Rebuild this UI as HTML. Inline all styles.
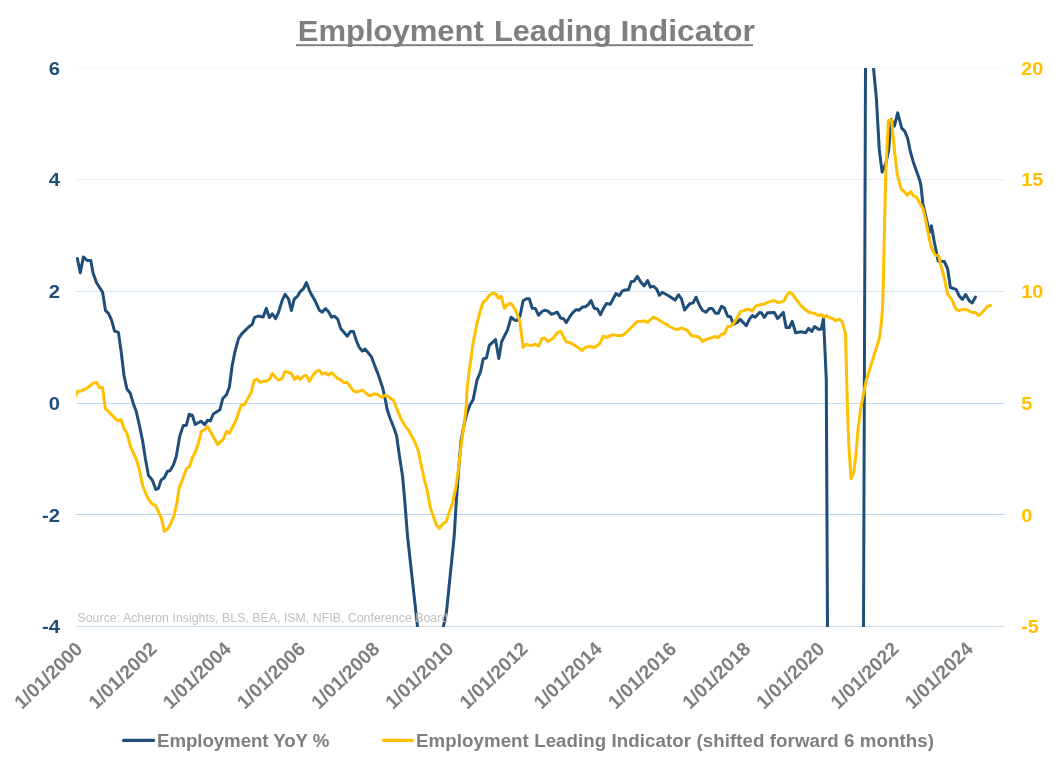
<!DOCTYPE html>
<html><head><meta charset="utf-8"><title>Employment Leading Indicator</title>
<style>
html,body{margin:0;padding:0;background:#fff;}
body{width:1054px;height:764px;overflow:hidden;font-family:"Liberation Sans",Arial,sans-serif;}
svg{display:block}
svg text{font-family:"Liberation Sans",Arial,sans-serif;}
.title{font-size:30.2px;font-weight:bold;fill:#7f7f7f;}
.ly{font-size:19.1px;font-weight:bold;fill:#1f4e79;}
.ry{font-size:19.1px;font-weight:bold;fill:#ffc000;}
.xt{font-size:19.3px;font-weight:bold;fill:#7f7f7f;}
.lg{font-size:18.7px;font-weight:bold;fill:#7f7f7f;}
.src{font-size:12.3px;fill:#bfbfbf;}
</style></head><body>
<svg width="1054" height="764" viewBox="0 0 1054 764">
<rect width="1054" height="764" fill="#ffffff"/>
<text class="title" y="40.6"><tspan x="297.7" textLength="186.2" lengthAdjust="spacingAndGlyphs">Employment</tspan> <tspan x="494.0" textLength="117.7" lengthAdjust="spacingAndGlyphs">Leading</tspan> <tspan x="620.5" textLength="134.4" lengthAdjust="spacingAndGlyphs">Indicator</tspan></text>
<rect x="296" y="44.2" width="457" height="2" fill="#7f7f7f"/>
<rect x="76.3" y="68" width="928.2" height="1" fill="#f5f8fc"/>
<rect x="76.3" y="179" width="928.2" height="1" fill="#e4eef8"/>
<rect x="76.3" y="291" width="928.2" height="1" fill="#d3e4f4"/>
<rect x="76.3" y="403" width="928.2" height="1" fill="#c3daf0"/>
<rect x="76.3" y="514" width="928.2" height="1" fill="#b8d3ec"/>
<rect x="76.3" y="626" width="928.2" height="1" fill="#cde0f2"/>

<text class="ly" transform="translate(60,74.9) scale(1.06,1)" text-anchor="end">6</text>
<text class="ly" transform="translate(60,186.1) scale(1.06,1)" text-anchor="end">4</text>
<text class="ly" transform="translate(60,298.1) scale(1.06,1)" text-anchor="end">2</text>
<text class="ly" transform="translate(60,410.0) scale(1.06,1)" text-anchor="end">0</text>
<text class="ly" transform="translate(60,521.9) scale(1.06,1)" text-anchor="end">-2</text>
<text class="ly" transform="translate(60,633.1) scale(1.06,1)" text-anchor="end">-4</text>

<text class="ry" transform="translate(1021.2,74.9) scale(1.035,1)">20</text>
<text class="ry" transform="translate(1021.2,186.1) scale(1.035,1)">15</text>
<text class="ry" transform="translate(1021.2,298.1) scale(1.035,1)">10</text>
<text class="ry" transform="translate(1021.2,410.0) scale(1.035,1)">5</text>
<text class="ry" transform="translate(1021.2,521.9) scale(1.035,1)">0</text>
<text class="ry" transform="translate(1021.2,633.1) scale(1.035,1)">-5</text>

<clipPath id="plot"><rect x="76.1" y="67.9" width="929" height="559"/></clipPath>
<g clip-path="url(#plot)">
<path d="M77.3 258.4 L80.3 272.7 L83.4 256.9 L87.1 260.5 L90.8 260.6 L93.1 273.2 L96.6 282.7 L102.6 292.2 L105.5 310.6 L108.3 313.1 L111.4 319.7 L114.6 331.1 L118.4 332.4 L121.2 352.0 L124.1 376.0 L126.9 389.0 L130.3 393.3 L133.2 403.2 L136.4 412.1 L139.3 425.0 L142.7 441.2 L145.5 459.2 L148.4 475.3 L152.5 480.4 L155.8 489.5 L158.4 488.4 L161.1 480.1 L164.3 477.8 L167.3 471.5 L170.2 470.6 L173.4 464.9 L176.3 456.3 L179.7 436.4 L183.3 425.4 L186.3 425.4 L189.2 414.2 L192.4 415.5 L195.2 424.5 L200.9 421.2 L204.7 424.6 L207.6 420.3 L210.4 420.9 L213.3 414.0 L219.9 409.8 L222.8 398.5 L226.5 394.7 L229.4 387.0 L232.2 365.2 L235.1 351.0 L238.5 338.7 L241.7 333.9 L248.4 327.3 L252.2 324.4 L254.6 317.3 L258.2 316.1 L263.2 317.0 L266.3 308.4 L269.3 317.5 L272.4 313.8 L275.6 318.7 L278.5 312.4 L282.3 300.1 L285.1 294.4 L288.5 298.8 L291.4 310.5 L294.2 299.2 L297.4 296.3 L300.3 291.6 L303.7 288.3 L306.4 282.5 L310.3 292.5 L315.5 301.6 L319.3 310.2 L322.1 312.1 L325.5 308.6 L328.4 311.5 L331.6 317.2 L334.4 316.2 L337.7 319.1 L340.7 328.6 L347.3 336.2 L350.6 331.4 L353.4 331.4 L356.3 340.5 L359.1 347.2 L362.3 351.0 L365.2 349.1 L371.4 356.7 L374.3 364.6 L378.1 374.1 L382.8 388.3 L385.7 401.6 L387.1 409.2 L389.9 417.8 L393.7 427.3 L396.6 435.8 L399.4 455.7 L402.6 476.6 L405.1 505.1 L407.5 536.0 L417.5 626.5 L420.1 650.0 M438.1 650.0 L443.4 626.5 L446.3 613.6 L454.2 536.0 L456.3 501.3 L458.8 467.1 L461.1 440.5 L464.3 423.5 L467.3 412.1 L470.2 404.5 L473.1 399.7 L477.1 379.8 L480.4 372.2 L483.2 358.9 L486.4 358.0 L489.3 345.3 L495.5 339.6 L498.8 358.4 L501.6 341.9 L504.5 335.8 L507.5 330.1 L511.1 317.2 L514.5 320.0 L517.4 320.4 L520.2 315.3 L523.1 300.7 L526.5 298.8 L529.3 298.8 L532.2 308.3 L535.4 308.6 L538.6 315.3 L542.0 311.5 L544.9 310.2 L548.1 311.1 L551.5 314.3 L557.2 312.1 L560.6 318.1 L563.5 318.7 L566.3 322.5 L569.5 317.2 L573.0 312.4 L576.2 309.6 L579.0 310.2 L582.4 307.1 L585.3 306.7 L588.1 304.8 L591.0 300.5 L594.2 308.3 L597.4 309.0 L600.5 314.7 L603.3 308.6 L606.5 303.5 L610.3 304.3 L616.0 293.5 L619.3 295.7 L622.1 291.2 L625.0 290.0 L628.4 289.7 L631.2 281.7 L634.1 281.1 L637.3 276.4 L640.7 282.0 L644.2 285.9 L647.6 280.5 L650.4 287.2 L653.3 286.2 L656.7 289.1 L659.4 295.3 L662.4 292.3 L668.5 295.7 L675.1 300.1 L678.5 294.8 L681.4 298.6 L684.6 310.0 L689.7 303.7 L693.1 302.9 L696.0 297.2 L699.4 305.2 L702.6 310.5 L706.0 312.2 L709.3 308.4 L712.1 308.4 L715.5 313.2 L718.4 313.2 L721.6 306.2 L724.4 308.1 L727.7 316.2 L730.7 317.0 L733.5 324.2 L736.8 322.7 L740.2 319.4 L746.3 325.7 L749.5 319.1 L752.3 315.6 L755.2 317.2 L759.5 312.4 L761.4 312.8 L764.3 317.5 L767.5 312.8 L774.3 312.4 L777.6 318.5 L783.3 312.4 L786.1 327.4 L789.3 327.6 L792.2 321.3 L795.6 332.7 L801.3 331.8 L805.7 332.7 L808.5 328.4 L811.7 331.4 L814.6 326.5 L818.4 329.3 L821.2 329.3 L823.5 318.5 L826.3 380.0 L827.5 627.0 L827.6 650.0 M863.4 650.0 L863.5 627.0 L865.5 68.0 L865.5 50.0 M871.7 50.0 L873.5 68.0 L876.4 98.6 L879.3 149.9 L882.1 172.1 L885.9 163.2 L888.7 149.9 L891.2 119.5 L894.4 126.2 L897.7 112.9 L901.7 128.1 L904.9 131.5 L907.7 138.5 L910.6 152.7 L913.4 162.2 L919.7 180.2 L921.0 185.9 L922.9 204.0 L929.5 232.4 L931.4 225.8 L934.3 241.9 L938.1 260.9 L944.3 261.5 L947.6 268.5 L950.4 287.5 L956.1 289.4 L959.3 296.0 L962.4 299.4 L965.6 294.5 L969.4 301.1 L972.2 303.0 L975.5 297.0" fill="none" stroke="#1f4e79" stroke-width="3" stroke-linejoin="round" stroke-linecap="round"/>
<path d="M74.5 398.0 L77.6 391.3 L81.4 390.9 L88.0 387.5 L93.7 382.9 L96.6 382.5 L99.4 387.6 L102.6 387.6 L105.3 408.5 L117.8 420.9 L121.2 419.7 L124.1 428.8 L126.9 433.0 L130.3 445.9 L136.4 459.6 L139.3 469.6 L142.7 486.1 L148.1 498.6 L152.4 504.3 L155.3 505.1 L158.7 512.4 L161.5 518.7 L164.4 531.3 L167.7 528.7 L171.1 523.0 L173.9 516.3 L176.8 503.4 L179.1 488.6 L186.7 468.3 L189.5 466.8 L192.4 457.3 L195.2 452.5 L198.1 444.0 L201.5 431.1 L204.7 429.8 L207.6 426.4 L217.6 444.4 L223.3 439.3 L226.5 431.3 L229.4 433.2 L236.0 420.3 L241.3 404.7 L244.2 405.1 L251.2 392.4 L254.1 380.4 L256.9 379.1 L260.4 382.3 L263.3 381.3 L266.1 381.3 L269.4 379.4 L272.4 373.5 L275.6 377.3 L278.5 380.2 L282.3 378.3 L285.1 371.3 L291.4 373.5 L294.6 379.4 L297.4 376.4 L300.3 379.4 L303.7 376.0 L306.4 375.4 L309.4 381.3 L312.6 376.0 L316.4 371.3 L319.3 370.3 L322.1 374.1 L325.5 372.8 L328.4 375.1 L331.6 372.6 L337.3 378.3 L340.1 379.4 L343.9 382.6 L347.3 382.6 L353.4 390.8 L356.3 392.1 L362.3 390.2 L368.6 395.4 L371.4 395.4 L374.3 393.7 L377.1 394.4 L381.9 397.3 L384.7 395.5 L387.6 396.3 L393.5 400.2 L396.6 408.3 L400.4 417.8 L405.1 425.9 L408.5 430.1 L414.6 441.5 L418.4 451.0 L421.2 465.2 L424.1 478.5 L427.5 491.8 L430.3 507.9 L436.4 525.0 L439.3 528.4 L442.7 524.0 L446.5 521.2 L448.7 513.6 L452.5 503.2 L455.4 489.9 L458.2 470.9 L461.1 445.3 L464.3 423.5 L466.4 404.5 L467.1 388.3 L469.9 365.6 L473.1 342.8 L477.1 322.9 L480.4 310.5 L483.2 302.0 L486.1 300.1 L489.3 295.4 L492.1 293.5 L495.5 293.5 L498.4 298.2 L501.2 296.3 L504.5 308.3 L507.5 304.5 L511.1 303.5 L514.5 308.3 L517.4 314.7 L519.8 321.0 L523.1 347.5 L525.9 344.3 L530.6 345.6 L535.4 344.3 L538.6 346.2 L542.0 338.6 L544.9 338.1 L548.1 341.5 L553.4 338.1 L557.2 332.9 L560.6 331.0 L563.5 336.7 L566.3 341.9 L569.5 342.2 L576.2 346.2 L582.4 350.4 L585.3 347.5 L589.5 346.2 L594.8 347.5 L599.9 343.4 L603.3 336.2 L606.5 337.5 L613.2 334.6 L617.0 335.6 L622.1 335.6 L625.5 333.3 L637.3 321.5 L640.7 321.4 L644.2 320.8 L647.6 322.3 L653.3 317.2 L656.7 318.5 L662.4 322.3 L668.5 325.7 L675.1 329.3 L678.0 329.3 L681.7 328.0 L687.4 330.3 L691.2 335.6 L696.9 336.5 L699.4 337.5 L702.6 341.3 L706.4 339.4 L715.5 336.5 L718.4 337.5 L721.6 334.2 L724.4 333.7 L727.7 326.7 L731.1 326.1 L734.3 322.3 L737.3 317.5 L740.6 311.5 L743.4 310.9 L746.6 309.4 L749.5 309.4 L752.3 310.9 L755.7 306.2 L760.5 304.6 L764.3 304.3 L767.5 302.4 L774.3 300.5 L777.6 302.4 L781.4 302.0 L784.2 300.5 L787.4 294.2 L789.9 292.3 L792.8 294.2 L796.9 300.5 L801.3 306.2 L808.9 312.2 L814.6 313.4 L818.4 315.6 L821.2 314.7 L824.1 317.0 L826.9 315.6 L829.8 317.9 L832.6 318.5 L835.6 320.7 L839.4 319.2 L842.3 322.0 L845.5 333.7 L846.4 366.9 L847.4 404.9 L848.7 442.8 L851.0 478.7 L853.7 472.7 L855.9 455.0 L857.8 431.4 L860.6 408.7 L866.3 380.2 L879.6 337.5 L881.5 321.4 L882.5 308.3 L883.1 291.3 L884.6 223.0 L885.9 168.9 L888.4 120.5 L891.6 120.1 L894.4 149.9 L897.3 174.5 L901.1 188.8 L904.3 191.6 L907.3 195.2 L910.6 191.4 L913.4 195.9 L916.3 196.6 L919.7 203.0 L922.9 208.3 L925.7 220.1 L928.6 235.3 L931.4 247.6 L935.2 255.2 L938.7 255.6 L940.9 265.6 L944.3 278.0 L947.6 294.1 L951.4 298.9 L956.1 309.3 L959.0 310.6 L962.8 309.3 L966.5 309.7 L972.2 312.5 L975.5 312.5 L978.5 315.5 L981.7 313.1 L987.4 306.6 L990.5 305.5" fill="none" stroke="#ffc000" stroke-width="3" stroke-linejoin="round" stroke-linecap="round"/>
</g>
<text class="src" x="77.5" y="621.8" textLength="370.7">Source: Acheron Insights, BLS, BEA, ISM, NFIB, Conference Board</text>
<text class="xt" transform="translate(83.8,650.4) rotate(-44)" text-anchor="end">1/01/2000</text>
<text class="xt" transform="translate(158.0,650.4) rotate(-44)" text-anchor="end">1/01/2002</text>
<text class="xt" transform="translate(232.2,650.4) rotate(-44)" text-anchor="end">1/01/2004</text>
<text class="xt" transform="translate(306.4,650.4) rotate(-44)" text-anchor="end">1/01/2006</text>
<text class="xt" transform="translate(380.6,650.4) rotate(-44)" text-anchor="end">1/01/2008</text>
<text class="xt" transform="translate(454.8,650.4) rotate(-44)" text-anchor="end">1/01/2010</text>
<text class="xt" transform="translate(529.0,650.4) rotate(-44)" text-anchor="end">1/01/2012</text>
<text class="xt" transform="translate(603.2,650.4) rotate(-44)" text-anchor="end">1/01/2014</text>
<text class="xt" transform="translate(677.4,650.4) rotate(-44)" text-anchor="end">1/01/2016</text>
<text class="xt" transform="translate(751.6,650.4) rotate(-44)" text-anchor="end">1/01/2018</text>
<text class="xt" transform="translate(825.8,650.4) rotate(-44)" text-anchor="end">1/01/2020</text>
<text class="xt" transform="translate(900.0,650.4) rotate(-44)" text-anchor="end">1/01/2022</text>
<text class="xt" transform="translate(974.2,650.4) rotate(-44)" text-anchor="end">1/01/2024</text>

<line x1="123.6" x2="153.5" y1="740.4" y2="740.4" stroke="#1f4e79" stroke-width="3.2" stroke-linecap="round"/>
<text class="lg" x="157" y="747" textLength="172.4">Employment YoY %</text>
<line x1="383.5" x2="412.3" y1="740.4" y2="740.4" stroke="#ffc000" stroke-width="3.2" stroke-linecap="round"/>
<text class="lg" x="416" y="747" textLength="518">Employment Leading Indicator (shifted forward 6 months)</text>
</svg>
</body></html>
